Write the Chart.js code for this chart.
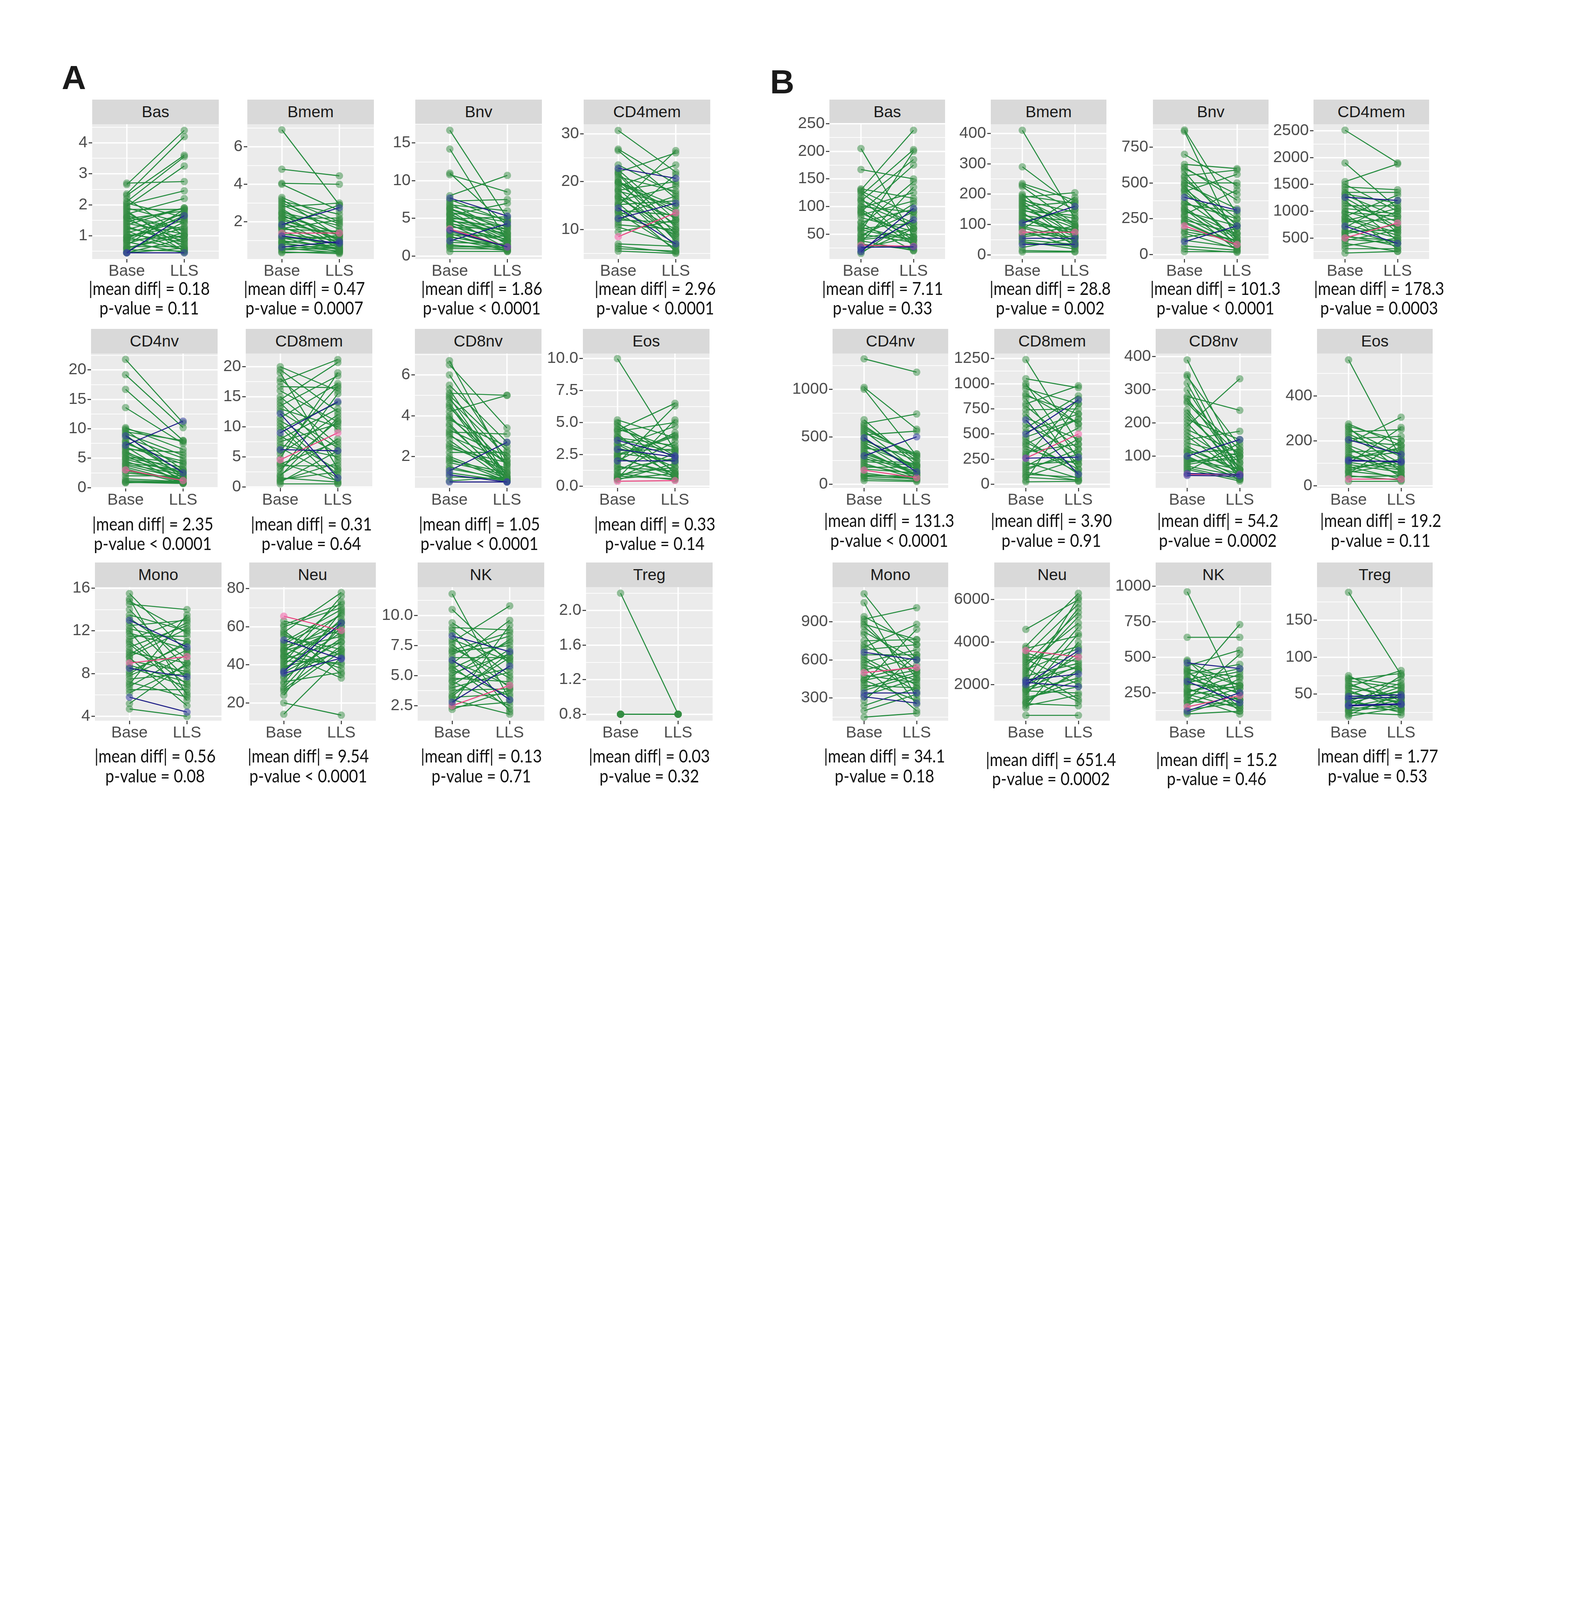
<!DOCTYPE html>
<html>
<head>
<meta charset="utf-8">
<script src="https://cdn.jsdelivr.net/npm/chart.js@4.4.1/dist/chart.umd.min.js"></script>
<style>
  html, body { margin: 0; background: #fff; }
  body { width: 4016px; height: 5315px; position: relative; overflow: hidden;
         font-family: "Liberation Sans", Arial, sans-serif; }
  .strip { position: absolute; background: #d9d9d9; color: #1a1a1a; font-size: 41px;
           display: flex; align-items: center; justify-content: center; }
  .stat { position: absolute; white-space: nowrap; font-family: Lato, "Open Sans", sans-serif;
          font-size: 46px; line-height: 1; color: #111; }
  .tag { position: absolute; font-family: "Liberation Sans", Arial, sans-serif; font-weight: bold;
         font-size: 86px; line-height: 1; color: #1a1a1a; }
  canvas { position: absolute; }
</style>
</head>
<body>
<script>
// x categories
const groups = ['Base', 'LLS'];

// ---- panel A (percent) ----
const aBasBase = [2.70,2.65,2.35,2.30,2.10,1.95,2.00,1.85,1.80,1.70,1.65,1.60,1.55,1.50,1.45,1.90,1.20,1.30,1.10,1.05,1.00,0.95,0.90,0.85,0.80,0.70,0.65,0.60,0.55,0.50,0.45,0.45,2.05,1.75,0.75,1.40,0.45,0.45,1.25,0.95,1.60,0.60,1.15,0.85,2.20,1.35];
const aBasLls  = [2.75,4.40,4.20,3.60,3.55,3.25,2.45,1.85,0.60,2.20,1.20,0.50,1.80,0.90,1.90,1.40,1.70,0.70,1.55,0.80,1.30,0.55,1.75,1.00,0.45,1.85,0.65,1.10,0.50,1.45,0.90,0.60,1.60,0.75,1.25,1.05,1.65,0.45,0.85,1.50,1.15,1.00,0.55,1.65,1.00,1.90];
const aBasBlue = [36, 37];
const aBasPink = [];

const aBmemBase = [6.90,4.80,4.05,4.00,3.30,3.20,3.10,2.90,2.80,2.60,2.50,2.40,2.30,2.20,2.10,2.00,1.90,1.80,1.70,1.60,1.50,1.35,1.20,1.10,1.00,0.95,0.90,0.80,0.70,0.60,0.50,0.40,0.35,2.70,1.85,1.25,0.65,1.40,3.00,2.20,1.65,1.15,0.85,0.55,2.45,1.75];
const aBmemLls  = [2.90,4.45,4.00,2.60,2.00,1.20,2.40,1.60,3.00,1.00,1.80,0.70,1.40,2.20,1.10,0.60,1.30,2.90,0.90,1.50,0.50,1.00,0.80,1.20,0.60,0.70,0.40,0.55,0.45,0.35,0.60,0.30,0.40,0.80,2.75,0.85,0.95,1.40,1.90,1.00,2.10,0.50,1.30,0.80,1.30,0.45];
const aBmemBlue = [34, 35, 36];
const aBmemPink = [37];

const aBnvBase = [16.7,14.2,11.0,10.8,8.0,7.3,7.0,6.8,6.6,6.4,6.2,6.0,5.8,5.6,5.4,5.2,5.0,4.8,4.6,4.4,4.2,4.0,3.8,3.2,3.0,2.8,2.5,2.2,1.8,1.5,1.2,1.0,0.6,7.7,3.4,2.0,3.6,7.5,6.3,5.5,4.9,4.3,3.5,2.6,1.4];
const aBnvLls  = [5.0,2.0,4.0,8.5,10.7,7.5,3.0,6.0,4.8,2.5,3.5,1.5,4.5,2.0,7.0,3.2,1.0,2.8,4.0,1.8,0.8,2.2,3.6,1.2,0.6,2.6,1.4,0.8,1.6,0.7,1.2,0.9,0.6,5.3,1.2,4.3,1.2,4.6,3.8,2.4,5.2,3.0,2.0,1.0,1.1];
const aBnvBlue = [33, 34, 35];
const aBnvPink = [36];

const aCD4memBase = [30.7,26.8,26.5,22.5,22.0,21.5,21.0,20.5,20.0,19.5,19.0,18.5,18.0,17.5,17.0,16.5,16.0,15.5,15.0,14.0,13.5,13.0,12.5,12.0,11.5,10.5,9.5,7.0,6.5,6.0,5.5,20.0,22.8,14.5,12.3,8.5,23.5,21.8,19.8,18.2,16.8,15.2,13.8,11.0];
const aCD4memLls  = [22.0,19.5,16.5,12.0,26.0,9.0,18.0,7.5,14.0,11.0,23.5,8.0,15.0,6.5,12.5,10.0,19.0,5.5,26.5,13.0,6.0,17.0,9.5,11.5,21.5,7.0,12.0,6.5,5.2,5.5,5.0,15.0,20.7,7.0,15.5,13.5,17.5,10.5,13.5,20.0,8.5,16.0,9.0,10.0];
const aCD4memBlue = [32, 33, 34];
const aCD4memPink = [35];

const aCD4nvBase = [21.8,19.2,16.7,13.6,10.2,9.8,9.5,9.0,8.5,8.0,7.5,7.0,6.5,6.0,5.5,5.0,4.5,4.0,3.5,2.5,2.0,1.5,1.0,0.8,6.8,5.8,4.2,3.2,1.2,0.9,8.8,7.2,3.0,10.0,9.2,7.8,6.2,5.2,4.8,3.8,2.8];
const aCD4nvLls  = [11.0,10.2,8.0,7.5,6.5,3.0,8.0,1.5,5.0,2.0,4.0,1.0,6.0,2.5,0.8,3.5,1.2,2.2,0.9,1.6,2.0,1.0,0.8,1.2,4.5,1.8,3.0,0.7,0.9,0.7,2.5,11.3,1.2,7.8,5.5,2.8,1.3,4.2,2.5,1.5,1.4];
const aCD4nvBlue = [30, 31];
const aCD4nvPink = [32];

const aCD8memBase = [20.0,19.0,17.5,16.7,15.0,14.5,13.0,11.5,10.5,8.0,7.0,5.5,4.0,3.0,2.0,1.0,0.5,18.0,12.5,9.5,6.5,4.8,3.5,2.5,1.5,0.8,10.0,14.0,7.5,1.2,12.2,9.0,6.2,4.5,19.5,16.0,13.5,11.0,8.5,6.0,3.8,1.8];
const aCD8memLls  = [16.0,3.0,21.2,16.5,7.0,20.7,10.0,17.2,2.0,13.0,5.0,12.0,1.0,11.0,8.0,4.0,0.5,9.5,6.5,14.0,1.5,19.0,3.5,15.5,0.8,6.0,0.6,4.5,10.5,2.5,1.5,14.2,6.0,9.0,12.5,10.8,18.5,5.5,2.8,16.8,7.5,11.5];
const aCD8memBlue = [30, 31, 32];
const aCD8memPink = [33];

const aCD8nvBase = [6.7,6.5,5.3,5.1,4.8,4.5,4.2,4.0,3.8,3.5,3.2,3.0,2.8,2.5,2.2,2.0,1.7,1.5,1.0,0.8,5.5,4.4,3.6,2.6,1.9,4.9,3.3,1.2,1.3,1.1,0.75,6.0,5.0,4.6,3.9,3.1,2.4,1.8,1.4];
const aCD8nvLls  = [1.5,3.4,1.0,5.0,2.0,0.8,5.0,1.2,2.5,0.9,3.1,1.8,0.8,1.3,2.2,0.9,1.1,0.8,0.9,1.0,2.7,1.6,0.75,1.4,0.8,0.85,2.0,0.8,2.7,0.75,0.75,1.8,2.3,1.0,1.6,0.9,1.7,1.2,0.9];
const aCD8nvBlue = [28, 29, 30];
const aCD8nvPink = [];

const aEosBase = [10.0,5.2,5.0,4.7,4.4,4.1,3.8,3.4,3.1,2.6,2.3,1.8,1.5,1.2,1.0,0.7,0.5,4.3,3.9,2.8,2.0,1.6,0.9,0.6,4.9,3.3,2.4,3.6,2.9,2.0,0.4,4.5,3.7,3.0,2.5,2.2,1.3,0.8,0.6];
const aEosLls  = [2.8,3.8,1.0,2.2,6.5,0.6,3.2,1.5,4.7,2.0,0.8,6.3,1.2,3.5,0.5,2.6,1.8,5.0,1.2,2.9,4.2,0.7,1.5,5.2,2.4,0.9,3.9,2.4,2.3,2.0,0.45,3.0,2.7,1.9,4.0,1.0,2.2,0.6,1.0];
const aEosBlue = [27, 28, 29];
const aEosPink = [30];

const aMonoBase = [15.5,15.0,14.5,14.0,12.5,12.0,11.5,11.0,10.5,10.0,9.5,8.0,7.5,7.0,6.5,5.2,4.7,13.5,12.8,11.8,10.8,9.8,8.8,8.2,7.2,6.8,9.2,11.2,13.0,8.5,5.8,9.0,14.8,13.2,12.2,10.2,9.6,8.6,7.8,6.2];
const aMonoLls  = [10.0,6.0,14.0,8.5,13.0,5.5,11.5,7.0,12.5,9.0,5.0,11.0,8.0,13.5,6.5,9.0,4.0,12.0,7.5,10.3,6.2,12.8,7.2,10.8,5.8,9.8,8.2,13.2,10.5,7.7,4.4,9.6,11.8,9.4,11.0,7.9,12.2,6.8,10.2,8.8];
const aMonoBlue = [28, 29, 30];
const aMonoPink = [31];

const aNeuBase = [63,60,57,55,51,49,47,45,43,41,39,37,33,30,27,24,20,14,58,50,46,44,42,38,34,31,28,48,53,35.5,36.5,65.5,61,56,52,47.5,44.5,40,36,26];
const aNeuLls  = [56,70,78,48,66,38,73,60,52,76,46,64,54,68,50,62,13.5,44,35,58,33,67,41,57,48,36,60,62,43,43.5,62,58,72,45,69,55,40,63,52,47];
const aNeuBlue = [28, 29, 30];
const aNeuPink = [31];

const aNKBase = [11.8,10.5,9.0,8.5,7.8,7.3,7.0,6.5,6.0,5.5,5.0,4.5,4.0,3.5,3.0,2.2,8.8,7.6,6.8,5.8,5.2,4.8,4.2,3.2,2.6,9.4,8.3,6.3,2.8,2.5,8.0,7.1,6.2,5.6,4.6,3.8,3.3,2.4];
const aNKLls  = [3.0,6.0,8.8,2.0,10.8,4.8,7.5,6.5,9.6,3.3,8.0,2.5,5.3,6.5,1.8,3.8,5.0,4.0,8.3,2.2,6.8,4.5,7.2,3.5,9.2,6.3,7.0,3.0,5.8,4.2,6.2,8.6,4.2,7.8,5.6,3.9,6.9,2.8];
const aNKBlue = [26, 27, 28];
const aNKPink = [29];

const aTregBase = [2.2,0.8,0.8,0.8,0.8,0.8,0.8];
const aTregLls  = [0.8,0.8,0.8,0.8,0.8,0.8,0.8];
const aTregBlue = [];
const aTregPink = [];

// ---- panel B (counts) ----
const bBasBase = [205,167,130,125,120,115,110,100,95,90,85,70,65,60,55,50,45,40,35,30,15,18,128,105,92,80,62,48,38,25,18,26,22,30,132,112,98,88,72,58,42,32];
const bBasLls  = [45,150,238,60,203,30,185,90,40,175,110,20,145,70,200,35,105,50,135,25,80,60,85,65,30,55,40,90,20,45,97,27,76,28,115,70,125,45,95,38,60,22];
const bBasBlue = [30, 31, 32];
const bBasPink = [33];

const bBmemBase = [410,290,235,225,200,190,180,170,160,150,140,130,120,110,95,85,70,60,45,25,15,10,185,165,145,125,100,80,65,50,105,55,35,75,230,195,175,155,135,115,90,40];
const bBmemLls  = [120,160,180,100,60,205,140,40,175,90,30,110,70,150,50,190,60,80,20,55,12,10,100,65,130,45,85,25,95,35,160,55,35,75,150,170,95,120,60,80,40,30];
const bBmemBlue = [30, 31, 32];
const bBmemPink = [33];

const bBnvBase = [870,860,630,600,580,550,520,500,480,460,440,380,350,320,300,280,260,240,180,150,120,60,40,20,700,420,330,270,220,100,400,90,200,610,540,490,450,360,310,230,160];
const bBnvLls  = [280,90,600,420,150,590,250,500,50,180,560,120,300,30,200,450,70,150,100,40,180,30,15,20,480,220,80,120,60,50,310,200,70,380,200,320,90,250,140,60,100];
const bBnvBlue = [30, 31];
const bBnvPink = [32];

const bCD4memBase = [2510,1900,1550,1450,1400,1350,1300,1200,1100,1000,950,900,850,800,650,600,550,450,400,350,300,220,1150,1050,750,700,580,480,1260,720,500,1500,1320,1250,980,880,820,620,520];
const bCD4memLls  = [1900,1050,1880,1400,600,1350,900,450,1100,700,300,1300,550,850,400,1000,350,650,250,500,300,250,800,950,500,1200,750,400,1200,400,780,1000,1150,700,900,600,1050,650,450];
const bCD4memBlue = [28, 29];
const bCD4memPink = [30];

const bCD4nvBase = [1320,1020,1000,680,640,600,560,520,460,420,380,340,260,220,180,120,90,60,40,580,440,320,280,240,200,100,490,300,150,620,540,480,400,360,300,160,80];
const bCD4nvLls  = [1180,580,300,200,740,280,150,560,250,90,320,110,220,60,180,50,90,40,30,300,180,130,70,200,100,70,130,500,70,250,320,150,200,90,110,120,60];
const bCD4nvBlue = [26, 27];
const bCD4nvPink = [28];

const bCD8memBase = [1240,1050,1000,950,900,850,800,740,600,560,450,400,350,300,220,180,140,100,70,40,25,700,520,380,280,160,120,80,640,500,260,260,980,880,780,660,470,420,320,200];
const bCD8memLls  = [400,960,250,800,600,150,980,750,300,880,100,650,200,560,60,450,350,70,40,800,30,200,700,120,850,300,40,250,100,840,270,500,600,700,350,450,650,150,400,230];
const bCD8memBlue = [28, 29, 30];
const bCD8memPink = [31];

const bCD8nvBase = [390,345,340,320,280,275,260,240,210,200,190,170,150,130,110,100,85,70,55,60,230,180,120,95,75,65,48,42,100,45,300,265,220,160,140,115,90,80];
const bCD8nvLls  = [80,45,130,30,238,60,100,40,150,35,333,70,175,50,120,30,90,40,140,25,55,110,60,45,100,30,45,40,150,45,60,120,80,45,100,35,60,110];
const bCD8nvBlue = [26, 27, 28];
const bCD8nvPink = [29];

const bEosBase = [560,275,260,240,220,190,170,150,130,100,85,70,55,40,20,250,210,180,140,120,95,60,45,205,115,110,30,265,230,200,160,125,105,80,65];
const bEosLls  = [120,180,60,250,100,305,40,160,75,260,30,120,200,45,20,140,220,90,50,170,60,100,25,140,105,110,30,200,130,180,80,150,70,110,40];
const bEosBlue = [23, 24, 25];
const bEosPink = [26];

const bMonoBase = [1120,1050,920,900,880,800,750,700,620,580,540,460,420,380,280,200,150,860,680,600,520,480,440,360,240,660,340,310,500,940,820,720,640,560,440,400,320];
const bMonoLls  = [600,300,1010,460,760,250,760,880,400,680,200,560,840,500,640,330,180,520,720,350,620,420,280,480,380,600,340,260,540,720,600,500,640,440,520,380,450];
const bMonoBlue = [25, 26, 27];
const bMonoPink = [28];

const bNeuBase = [4600,3800,3400,3200,3000,2800,2600,2400,1900,1700,1500,1300,1100,900,550,3500,2900,2700,2300,2100,1800,1600,1200,1000,3300,2200,2000,2100,3600,3700,3100,2500,2200,1950,1750,1400,1150];
const bNeuLls  = [6000,6300,5800,2000,5400,1300,5200,3000,4700,1600,4400,2200,1000,4000,550,2700,4900,3700,1200,6100,2900,3500,2600,1500,3100,2500,3600,1900,3300,4300,3800,5600,2800,3300,2300,1900,2700];
const bNeuBlue = [25, 26, 27];
const bNeuPink = [28];

const bNKBase = [960,640,480,440,420,400,380,350,300,280,250,220,200,180,130,100,360,320,260,240,160,110,460,330,120,150,470,410,390,340,310,270,230,190];
const bNKLls  = [200,640,140,550,300,120,450,250,730,160,380,100,520,280,180,120,200,400,320,140,350,220,420,180,250,230,300,360,240,420,280,200,300,160];
const bNKBlue = [22, 23, 24];
const bNKPink = [25];

const bTregBase = [188,75,70,65,60,55,50,45,42,40,38,32,30,28,25,22,20,58,52,36,47,44,35,34,72,68,62,48,43,39,33,27];
const bTregLls  = [76,40,78,35,82,30,70,45,25,65,55,28,75,42,22,50,32,48,38,60,49,46,37,36,62,58,44,40,53,30,46,35];
const bTregBlue = [20, 21, 22, 23];
const bTregPink = [];

// summary text under each panel
const aDiff = ['0.18','0.47','1.86','2.96','2.35','0.31','1.05','0.33','0.56','9.54','0.13','0.03'];
const aP    = ['= 0.11','= 0.0007','< 0.0001','< 0.0001','< 0.0001','= 0.64','< 0.0001','= 0.14','= 0.08','< 0.0001','= 0.71','= 0.32'];
const bDiff = ['7.11','28.8','101.3','178.3','131.3','3.90','54.2','19.2','34.1','651.4','15.2','1.77'];
const bP    = ['= 0.33','= 0.002','< 0.0001','= 0.0003','< 0.0001','= 0.91','= 0.0002','= 0.11','= 0.18','= 0.0002','= 0.46','= 0.53'];

// y axis: [min, max, major ticks, decimals]
const aAxes = [
  [0.25, 4.6, [1,2,3,4], 0], [0.02, 7.2, [2,4,6], 0], [-0.4, 17.5, [0,5,10,15], 0], [3.85, 32, [10,20,30], 0],
  [-0.05, 22.8, [0,5,10,15,20], 0], [-0.17, 22.2, [0,5,10,15,20], 0], [0.46, 7.05, [2,4,6], 0], [-0.12, 10.4, [0,2.5,5,7.5,10], 1],
  [3.6, 16.1, [4,8,12,16], 0], [10.6, 80.8, [20,40,60,80], 0], [1.26, 12.36, [2.5,5,7.5,10], 1], [0.725, 2.27, [0.8,1.2,1.6,2.0], 1]
];
const bAxes = [
  [5, 249, [50,100,150,200,250], 0], [-13, 430, [0,100,200,300,400], 0], [-31, 910, [0,250,500,750], 0], [109, 2621, [500,1000,1500,2000,2500], 0],
  [-37, 1376, [0,500,1000], 0], [-35, 1300, [0,250,500,750,1000,1250], 0], [4.5, 409, [100,200,300,400], 0], [-9, 588, [0,200,400], 0],
  [122, 1172, [300,600,900], 0], [296, 6592, [2000,4000,6000], 0], [53, 993, [250,500,750,1000], 0], [14, 195, [50,100,150], 0]
];

const names = ['Bas','Bmem','Bnv','CD4mem','CD4nv','CD8mem','CD8nv','Eos','Mono','Neu','NK','Treg'];
const aSeries = [
  [aBasBase, aBasLls, aBasBlue, aBasPink], [aBmemBase, aBmemLls, aBmemBlue, aBmemPink],
  [aBnvBase, aBnvLls, aBnvBlue, aBnvPink], [aCD4memBase, aCD4memLls, aCD4memBlue, aCD4memPink],
  [aCD4nvBase, aCD4nvLls, aCD4nvBlue, aCD4nvPink], [aCD8memBase, aCD8memLls, aCD8memBlue, aCD8memPink],
  [aCD8nvBase, aCD8nvLls, aCD8nvBlue, aCD8nvPink], [aEosBase, aEosLls, aEosBlue, aEosPink],
  [aMonoBase, aMonoLls, aMonoBlue, aMonoPink], [aNeuBase, aNeuLls, aNeuBlue, aNeuPink],
  [aNKBase, aNKLls, aNKBlue, aNKPink], [aTregBase, aTregLls, aTregBlue, aTregPink]
];
const bSeries = [
  [bBasBase, bBasLls, bBasBlue, bBasPink], [bBmemBase, bBmemLls, bBmemBlue, bBmemPink],
  [bBnvBase, bBnvLls, bBnvBlue, bBnvPink], [bCD4memBase, bCD4memLls, bCD4memBlue, bCD4memPink],
  [bCD4nvBase, bCD4nvLls, bCD4nvBlue, bCD4nvPink], [bCD8memBase, bCD8memLls, bCD8memBlue, bCD8memPink],
  [bCD8nvBase, bCD8nvLls, bCD8nvBlue, bCD8nvPink], [bEosBase, bEosLls, bEosBlue, bEosPink],
  [bMonoBase, bMonoLls, bMonoBlue, bMonoPink], [bNeuBase, bNeuLls, bNeuBlue, bNeuPink],
  [bNKBase, bNKLls, bNKBlue, bNKPink], [bTregBase, bTregLls, bTregBlue, bTregPink]
];

// layout (page pixels)
const plotTop = [318, 905, 1503];
const plotH = [345, 344, 342];
const stripH = 63;
const aLeft = [[236,633,1063,1494], [233,629,1062,1492], [243,638,1069,1500]];
const aW = 324;
const bLeft = [[2123,2536,2951,3362], [2131,2545,2958,3371], [2131,2545,2958,3371]];
const bW = 296;
const aStatX = [[382,779,1233,1677], [391,797,1227,1676], [397,789,1232,1662]];
const aStatY = [[738,788], [1341,1391], [1935,1986]];
const bStatX = [[2259,2688,3111,3530], [2276,2691,3117,3534], [2264,2690,3114,3526]];
const bStatY = [[[738,788],[738,788],[738,788],[738,788]],
                [[1332,1383],[1332,1383],[1332,1383],[1332,1383]],
                [[1935,1986],[1944,1993],[1944,1993],[1935,1986]]];

const YW = 150, XH = 80, PAD_T = 34, PAD_R = 10;
const AXIS_FONT = '"Liberation Sans", Arial, sans-serif';
const GREEN = '#238b3d', GREEN_PT = 'rgba(52,140,66,0.5)';
const BLUE = '#1c1c86', BLUE_PT = 'rgba(55,65,160,0.55)';
const PINK = '#ea447f', PINK_PT = 'rgba(242,105,172,0.6)';

// squeeze the stat lines to the narrow width of the original
const mctx = document.createElement('canvas').getContext('2d');
mctx.font = '46px Lato, "Open Sans", sans-serif';
const statScale = 310 / mctx.measureText('|mean diff| = 0.18').width;

const panelBg = {
  id: 'panelBg',
  beforeDraw(chart) {
    const a = chart.chartArea, ctx = chart.ctx;
    ctx.save();
    ctx.fillStyle = '#ebebeb';
    ctx.fillRect(a.left, a.top, a.right - a.left, a.bottom - a.top);
    ctx.restore();
  }
};

// major ticks plus ggplot-style minor breaks half way between
function yTicks(majors, min, max) {
  const step = majors[1] - majors[0];
  const out = majors.map(v => ({ value: v }));
  for (let v = majors[0] - step / 2; v <= majors[majors.length - 1] + step / 2 + 1e-9; v += step) {
    if (v >= min && v <= max) out.push({ value: v, minor: true });
  }
  return out.sort((p, q) => p.value - q.value);
}

function addDiv(cls, text, style) {
  const d = document.createElement('div');
  d.className = cls;
  d.textContent = text;
  Object.assign(d.style, style);
  document.body.appendChild(d);
  return d;
}

function addStat(text, x, y) {
  addDiv('stat', text, { left: x + 'px', top: y + 'px',
    transform: 'translate(-50%, -50%) scaleX(' + statScale.toFixed(3) + ')' });
}

function makePanel(name, series, axis, left, top, w, h) {
  const [base, lls, blue, pink] = series;
  const [min, max, majors, dec] = axis;

  addDiv('strip', name, { left: left + 'px', top: (top - stripH) + 'px', width: w + 'px', height: stripH + 'px' });

  const cv = document.createElement('canvas');
  const cw = YW + w + PAD_R, ch = PAD_T + h + XH;
  cv.width = cw; cv.height = ch;
  cv.style.left = (left - YW) + 'px';
  cv.style.top = (top - PAD_T) + 'px';
  cv.style.width = cw + 'px';
  cv.style.height = ch + 'px';
  document.body.appendChild(cv);

  const datasets = base.map((b, i) => {
    const isBlue = blue.includes(i), isPink = pink.includes(i);
    return {
      data: [{ x: 1, y: b }, { x: 2, y: lls[i] }],
      borderColor: isBlue ? BLUE : isPink ? PINK : GREEN,
      pointBackgroundColor: isBlue ? BLUE_PT : isPink ? PINK_PT : GREEN_PT,
      pointBorderWidth: 0,
      pointRadius: 9.5,
      borderWidth: 2.6,
      tension: 0,
      order: (isBlue || isPink) ? 0 : 1
    };
  });

  new Chart(cv, {
    type: 'line',
    data: { datasets },
    options: {
      responsive: false,
      animation: false,
      devicePixelRatio: 1,
      layout: { padding: { top: PAD_T, right: PAD_R, left: 0, bottom: 0 } },
      plugins: { legend: { display: false }, tooltip: { enabled: false } },
      scales: {
        x: {
          type: 'linear', min: 0.4, max: 2.6,
          afterBuildTicks: s => { s.ticks = [{ value: 1 }, { value: 2 }]; },
          afterFit: s => { s.height = XH; },
          border: { display: false },
          grid: { color: '#ffffff', lineWidth: 3.4, tickColor: '#333333', tickLength: 9, tickWidth: 2.5 },
          ticks: {
            callback: v => groups[v - 1],
            autoSkip: false, maxRotation: 0, padding: -2,
            color: '#4d4d4d', font: { family: AXIS_FONT, size: 41 }
          }
        },
        y: {
          type: 'linear', min: min, max: max,
          afterBuildTicks: s => { s.ticks = yTicks(majors, min, max); },
          afterFit: s => { s.width = YW; },
          border: { display: false },
          grid: {
            color: '#ffffff',
            lineWidth: c => (c.tick && c.tick.minor) ? 1.7 : 3.4,
            tickColor: c => (c.tick && c.tick.minor) ? 'rgba(0,0,0,0)' : '#333333',
            tickLength: 9, tickWidth: 2.5
          },
          ticks: {
            callback: (v, i, t) => t[i].minor ? '' : Number(v).toFixed(dec),
            autoSkip: false, padding: 3,
            color: '#4d4d4d', font: { family: AXIS_FONT, size: 41 }
          }
        }
      }
    },
    plugins: [panelBg]
  });
}

addDiv('tag', 'A', { left: '158px', top: '155px' });
addDiv('tag', 'B', { left: '1971px', top: '166px' });

for (let k = 0; k < 12; k++) {
  const r = Math.floor(k / 4), c = k % 4;
  makePanel(names[k], aSeries[k], aAxes[k], aLeft[r][c], plotTop[r], aW, plotH[r]);
  makePanel(names[k], bSeries[k], bAxes[k], bLeft[r][c], plotTop[r], bW, plotH[r]);

  addStat('|mean diff| = ' + aDiff[k], aStatX[r][c], aStatY[r][0]);
  addStat('p-value ' + aP[k], aStatX[r][c], aStatY[r][1]);
  addStat('|mean diff| = ' + bDiff[k], bStatX[r][c], bStatY[r][c][0]);
  addStat('p-value ' + bP[k], bStatX[r][c], bStatY[r][c][1]);
}
</script>
</body>
</html>
